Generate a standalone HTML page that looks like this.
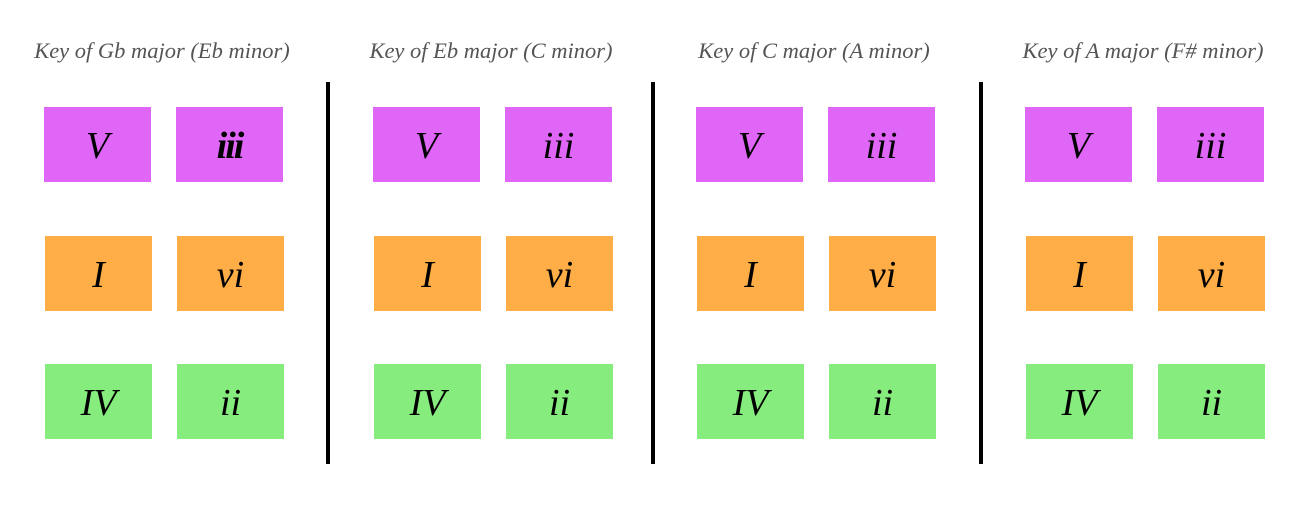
<!DOCTYPE html>
<html><head><meta charset="utf-8"><style>
body{margin:0;width:1296px;height:508px;background:#fff;position:relative;overflow:hidden;font-family:"Liberation Serif",serif}
.t{position:absolute;top:38px;width:340px;text-align:center;font-style:italic;font-size:22.5px;color:#555}
.b{position:absolute;width:107px;height:75px;display:flex;align-items:center;justify-content:center;font-style:italic;font-size:38px;color:#000;padding-top:2px;box-sizing:border-box}
.m{background:#e066f8}.o{background:#ffad46}.g{background:#86ec7e}
.d{position:absolute;top:82px;width:4px;height:382px;background:#000}
</style></head><body>
<script>
const titles=["Key of Gb major (Eb minor)","Key of Eb major (C minor)","Key of C major (A minor)","Key of A major (F# minor)"];
const colX=[44,373,696,1025];
const dividers=[326,651,979];
const rows=[{y:107,c:"m",l:["V","iii"],dx:0},{y:236,c:"o",l:["I","vi"],dx:1},{y:364,c:"g",l:["IV","ii"],dx:1}];
const root=document.body;
colX.forEach((x,i)=>{
  const t=document.createElement('div');t.className='t';t.textContent=titles[i];
  t.style.left=(x+118-170)+'px';
  
  
  root.appendChild(t);
  rows.forEach(r=>{
    r.l.forEach((lab,j)=>{
      const b=document.createElement('div');b.className='b '+r.c;b.textContent=lab;
      b.style.left=(x+r.dx+j*132)+'px';b.style.top=r.y+'px';
      if(i===0&&lab==="iii"){b.style.fontWeight='bold';b.style.letterSpacing='-2px';}
      
      
      root.appendChild(b);
    });
  });
});
dividers.forEach(x=>{
  const d=document.createElement('div');d.className='d';d.style.left=x+'px';
  
  
  root.appendChild(d);
});
</script>
</body></html>
